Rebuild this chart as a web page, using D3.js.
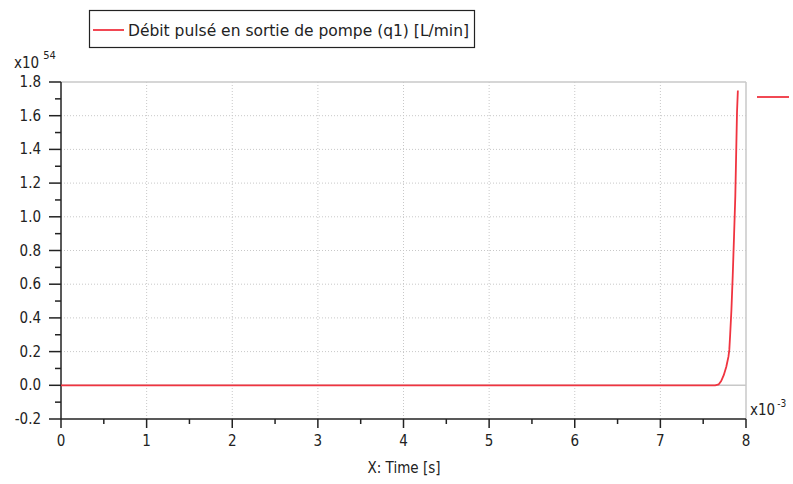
<!DOCTYPE html>
<html><head><meta charset="utf-8">
<script src="https://cdn.jsdelivr.net/npm/d3@7"></script>
<style>body{margin:0;background:#fff}svg{display:block}text{font-family:"DejaVu Sans Condensed","DejaVu Sans",sans-serif;fill:#222}</style>
</head><body><svg id="c" width="793" height="484"></svg>
<script>
// time in ms (x10^-3 s), flow in x10^54 L/min
const timeMs = [0, 7.64, 7.68, 7.71, 7.74, 7.77, 7.795, 7.805, 7.815, 7.83, 7.845, 7.86, 7.875, 7.885, 7.895, 7.905];
const q1 = [0, 0, 0.005, 0.025, 0.06, 0.11, 0.17, 0.21, 0.30, 0.45, 0.65, 0.88, 1.12, 1.37, 1.62, 1.75];
const xTicks = [0,1,2,3,4,5,6,7,8];
const yTicks = [-0.2,0,0.2,0.4,0.6,0.8,1.0,1.2,1.4,1.6,1.8];
const seriesName = "Débit pulsé en sortie de pompe (q1) [L/min]";
const xTitle = "X: Time [s]";

const svg = d3.select("#c");
const L=61,R=746,T=82,B=419;
const x = d3.scaleLinear().domain([0,8]).range([L,R]);
const y = d3.scaleLinear().domain([-0.2,1.8]).range([B,T]);

const g = svg.append("g");
g.selectAll(".gx").data(xTicks.slice(1,-1)).enter().append("line")
 .attr("x1",d=>x(d)).attr("x2",d=>x(d)).attr("y1",T).attr("y2",B)
 .attr("stroke","#c8c8c8").attr("stroke-dasharray","1,2");
g.selectAll(".gy").data(yTicks.filter(d=>d>0.01&&d<1.79)).enter().append("line")
 .attr("y1",d=>y(d)).attr("y2",d=>y(d)).attr("x1",L).attr("x2",R)
 .attr("stroke","#c8c8c8").attr("stroke-dasharray","1,2");
g.append("line").attr("x1",L).attr("x2",R).attr("y1",y(0)).attr("y2",y(0)).attr("stroke","#c8c8c8").attr("stroke-width",1.5);
g.append("line").attr("x1",L).attr("x2",R).attr("y1",T).attr("y2",T).attr("stroke","#c8c8c8").attr("stroke-width",1.5);
g.append("line").attr("x1",R).attr("x2",R).attr("y1",T).attr("y2",B).attr("stroke","#c8c8c8").attr("stroke-width",1.5);

const yMinor = d3.range(-0.2,1.801,0.1);
const xMinor = d3.range(0,8.01,0.5);
const ax = svg.append("g").attr("stroke","#222");
ax.append("line").attr("x1",L).attr("x2",L).attr("y1",T).attr("y2",B).attr("stroke-width",1.5);
ax.append("line").attr("x1",L).attr("x2",R).attr("y1",B).attr("y2",B).attr("stroke-width",1.5);
ax.selectAll(".ym").data(yMinor).enter().append("line")
 .attr("x1",(d,i)=>i%2===0?L-12:L-6).attr("x2",L).attr("y1",d=>y(d)).attr("y2",d=>y(d)).attr("stroke-width",1.5);
ax.selectAll(".xm").data(xMinor).enter().append("line")
 .attr("y1",B).attr("y2",(d,i)=>i%2===0?B+9:B+5).attr("x1",d=>x(d)).attr("x2",d=>x(d)).attr("stroke-width",1.5);

svg.selectAll(".yl").data(yTicks).enter().append("text")
 .attr("x",41).attr("y",d=>y(d)+5).attr("text-anchor","end").attr("font-size",15).text(d=>d.toFixed(1));
svg.selectAll(".xl").data(xTicks).enter().append("text")
 .attr("x",d=>x(d)).attr("y",446).attr("text-anchor","middle").attr("font-size",15).text(d=>d);
svg.append("text").attr("x",404).attr("y",473).attr("text-anchor","middle").attr("font-size",15).text(xTitle);

const e1 = svg.append("text").attr("x",14).attr("y",68).attr("font-size",15);
e1.append("tspan").text("x10");
e1.append("tspan").attr("dx",4).attr("dy",-9).attr("font-size",11).text("54");
const e2 = svg.append("text").attr("x",750).attr("y",415).attr("font-size",15);
e2.append("tspan").text("x10");
e2.append("tspan").attr("dx",2).attr("dy",-8).attr("font-size",10).text("-3");

const line = d3.line().x((d,i)=>x(timeMs[i])).y(d=>y(d));
svg.append("path").datum(q1).attr("d",line).attr("fill","none").attr("stroke","#f03440").attr("stroke-width",1.8);

svg.append("rect").attr("x",89.5).attr("y",10.5).attr("width",385).attr("height",37).attr("fill","#fff").attr("stroke","#222").attr("stroke-width",1.2);
svg.append("line").attr("x1",93).attr("x2",124).attr("y1",30).attr("y2",30).attr("stroke","#f03440").attr("stroke-width",1.8);
svg.append("text").attr("x",128).attr("y",36).attr("font-size",16).attr("textLength",341).attr("lengthAdjust","spacingAndGlyphs").text(seriesName);
svg.append("line").attr("x1",757).attr("x2",789).attr("y1",97).attr("y2",97).attr("stroke","#f03440").attr("stroke-width",1.8);
</script></body></html>
